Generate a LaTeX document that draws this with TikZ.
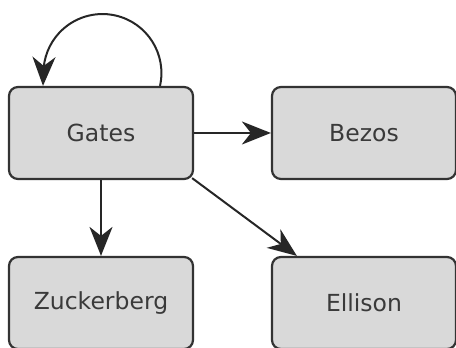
\documentclass[tikz,border=0pt]{standalone}
\usepackage{fontspec}
\setmainfont{DejaVu Sans}
\usetikzlibrary{arrows.meta}
\definecolor{boxfill}{HTML}{D9D9D9}
\definecolor{boxline}{HTML}{333333}
\definecolor{boxtext}{HTML}{3A3A3A}
\begin{document}
\begin{tikzpicture}[x=1pt,y=1pt,
  person/.style={draw=boxline, fill=boxfill, line width=2.2pt, rounded corners=9pt,
    minimum width=184pt, minimum height=92pt, inner sep=0pt,
    text=boxtext, font=\fontsize{23.5}{26}\selectfont},
  link/.style={draw=black!85, line width=2pt,
    -{Stealth[length=29pt,width=23pt,inset=9pt]}}]
  \useasboundingbox (0,0) rectangle (456,348);
  \node[person] (gates) at (101,215) {Gates};
  \node[person] (bezos) at (364,215) {Bezos};
  \node[person] (zuck)  at (101,45)  {Zuckerberg};
  \node[person] (ellison) at (364,45) {Ellison};
  % self loop over the Gates box, ending straight down onto its top
  \draw[link] ([xshift=59pt]gates.north) arc[start angle=-12.6, end angle=180, radius=59pt]
    -- ([xshift=-58pt]gates.north);
  \draw[link] (gates.east) -- (bezos.west);
  \draw[link] (gates.south) -- (zuck.north);
  \draw[link] ([shift={(-2pt,2pt)}]gates.south east) -- ([xshift=26pt]ellison.north west);
\end{tikzpicture}
\end{document}
